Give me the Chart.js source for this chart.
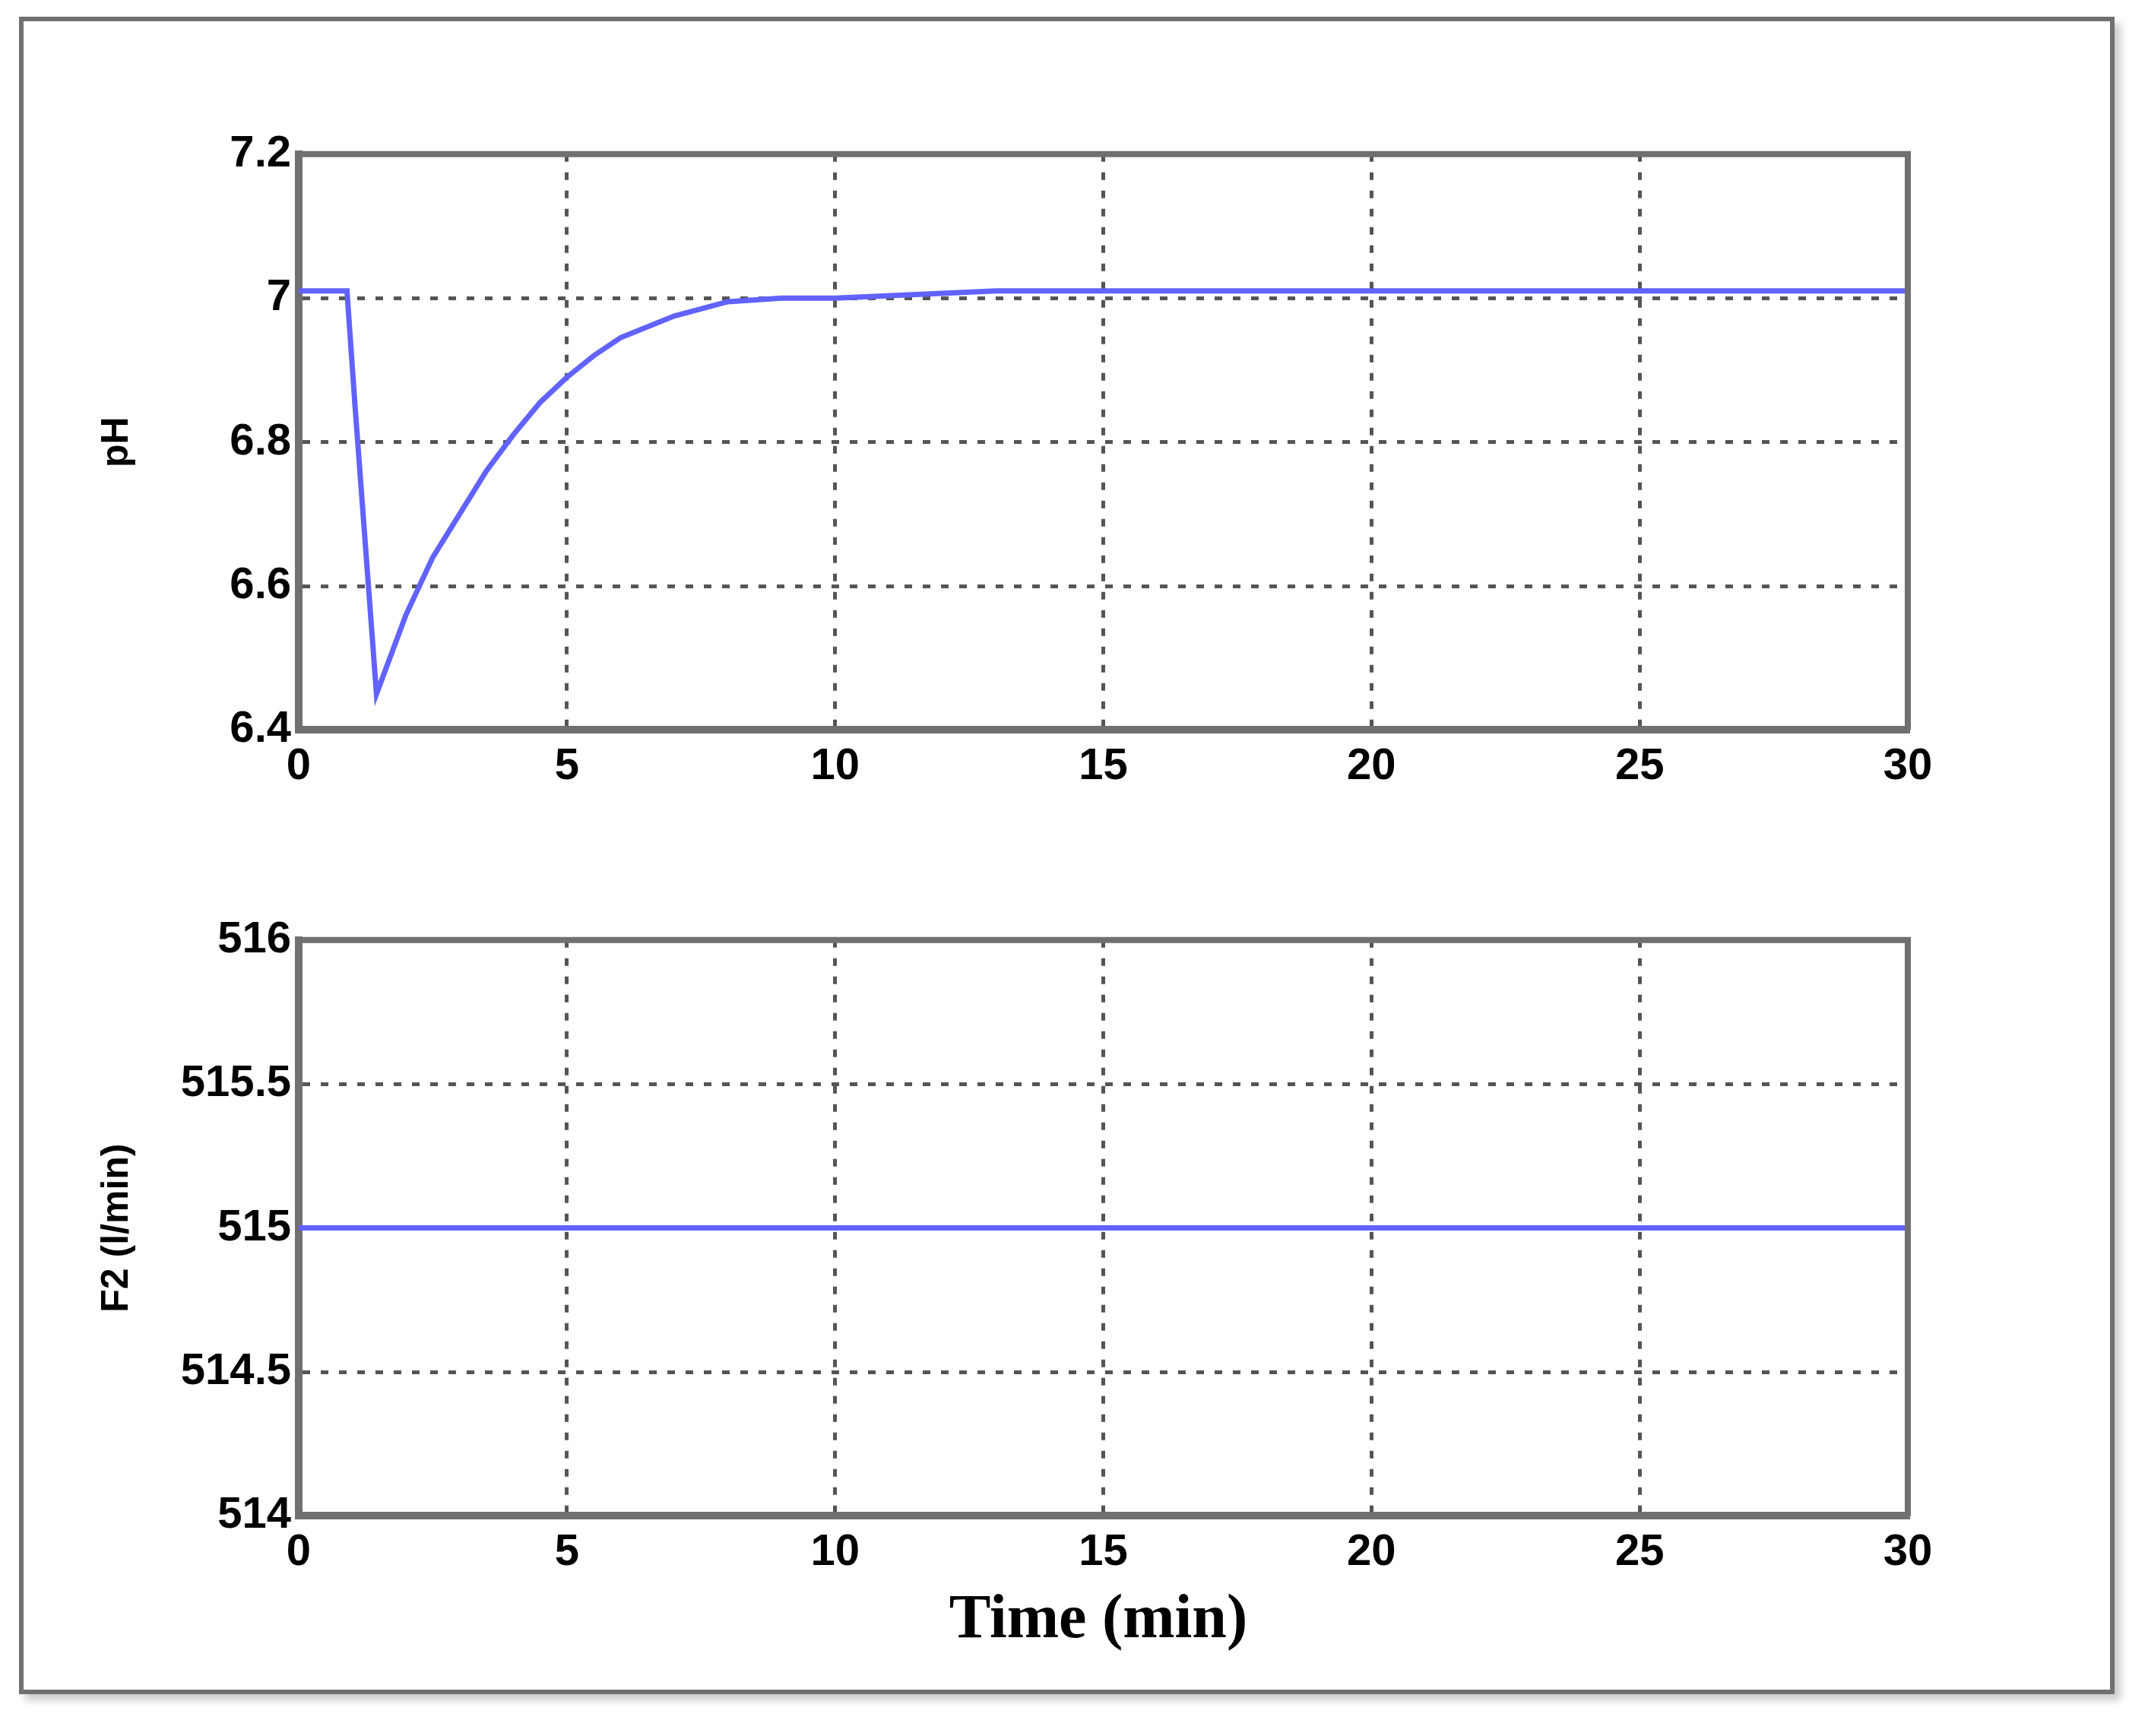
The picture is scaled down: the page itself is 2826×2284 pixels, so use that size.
<!DOCTYPE html>
<html>
<head>
<meta charset="utf-8">
<script src="https://cdn.jsdelivr.net/npm/chart.js@4.4.0/dist/chart.umd.min.js"></script>
<style>
body { margin: 0; background: #fff; width: 2826px; height: 2284px; position: relative; overflow: hidden; }
#frame { position: absolute; left: 25px; top: 22px; width: 2745px; height: 2195px; border: 6px solid #707070; box-shadow: 8px 8px 10px #ccc; }
.box { position: absolute; left: 120px; width: 2460px; }
#xlabel { position: absolute; left: 0; width: 2890px; top: 2080px; text-align: center; font: bold 82px "Liberation Serif", serif; color: #000; }
</style>
</head>
<body>
<div id="frame"></div>
<div class="box" style="top:158px;height:900px"><canvas id="c1"></canvas></div>
<div class="box" style="top:1192px;height:900px"><canvas id="c2"></canvas></div>
<div id="xlabel">Time (min)</div>
<script>
var phTime = [0, 0.9, 1.05, 1.45, 2, 2.5, 3, 3.5, 4, 4.5, 5, 5.5, 6, 7, 8, 9, 10, 13, 30];
var phValue = [7.01, 7.01, 6.85, 6.45, 6.56, 6.64, 6.70, 6.76, 6.81, 6.855, 6.89, 6.92, 6.945, 6.975, 6.995, 7.0, 7.0, 7.01, 7.01];
var flowTime = [0, 30];
var flowValue = [515, 515];
var xTicks = [0, 5, 10, 15, 20, 25, 30];

function makeChart(id, xs, ys, yMin, yMax, yStep, yTitle) {
    new Chart(document.getElementById(id), {
        type: 'line',
        data: {
            datasets: [{
                data: xs.map(function (x, i) { return { x: x, y: ys[i] }; }),
                borderColor: '#6262ff',
                borderWidth: 7,
                pointRadius: 0,
                tension: 0
            }]
        },
        options: {
            responsive: true,
            maintainAspectRatio: false,
            animation: false,
            layout: { padding: { right: 70, top: 40 } },
            plugins: { legend: { display: false }, tooltip: { enabled: false } },
            scales: {
                x: {
                    type: 'linear', min: 0, max: 30,
                    afterBuildTicks: function (ax) { ax.ticks = xTicks.map(function (v) { return { value: v }; }); },
                    grid: { color: '#555', lineWidth: 5, drawTicks: false },
                    border: { color: '#707070', width: 10, dash: [10, 14] },
                    ticks: { color: '#000', font: { family: 'Liberation Sans', weight: 'bold', size: 58 }, padding: 14 }
                },
                y: {
                    min: yMin, max: yMax,
                    afterFit: function (ax) { ax.width = 273; },
                    ticks: {
                        stepSize: yStep, color: '#000', font: { family: 'Liberation Sans', weight: 'bold', size: 58 }, padding: 10,
                        callback: function (v) { return String(Math.round(v * 10) / 10); }
                    },
                    grid: { color: '#555', lineWidth: 5, drawTicks: false },
                    border: { color: '#707070', width: 10, dash: [10, 14] },
                    title: { display: true, text: yTitle, color: '#000', font: { family: 'Liberation Sans', weight: 'bold', size: 50 }, padding: 4 }
                }
            }
        },
        plugins: [{
            id: 'topRightBorder',
            afterDraw: function (chart) {
                var a = chart.chartArea, ctx = chart.ctx;
                ctx.save();
                ctx.strokeStyle = '#707070';
                ctx.lineWidth = 8;
                ctx.beginPath();
                ctx.moveTo(a.left, a.top); ctx.lineTo(a.right, a.top); ctx.lineTo(a.right, a.bottom);
                ctx.stroke();
                ctx.restore();
            }
        }]
    });
}

makeChart('c1', phTime, phValue, 6.4, 7.2, 0.2, 'pH');
makeChart('c2', flowTime, flowValue, 514, 516, 0.5, 'F2 (l/min)');
</script>
</body>
</html>
